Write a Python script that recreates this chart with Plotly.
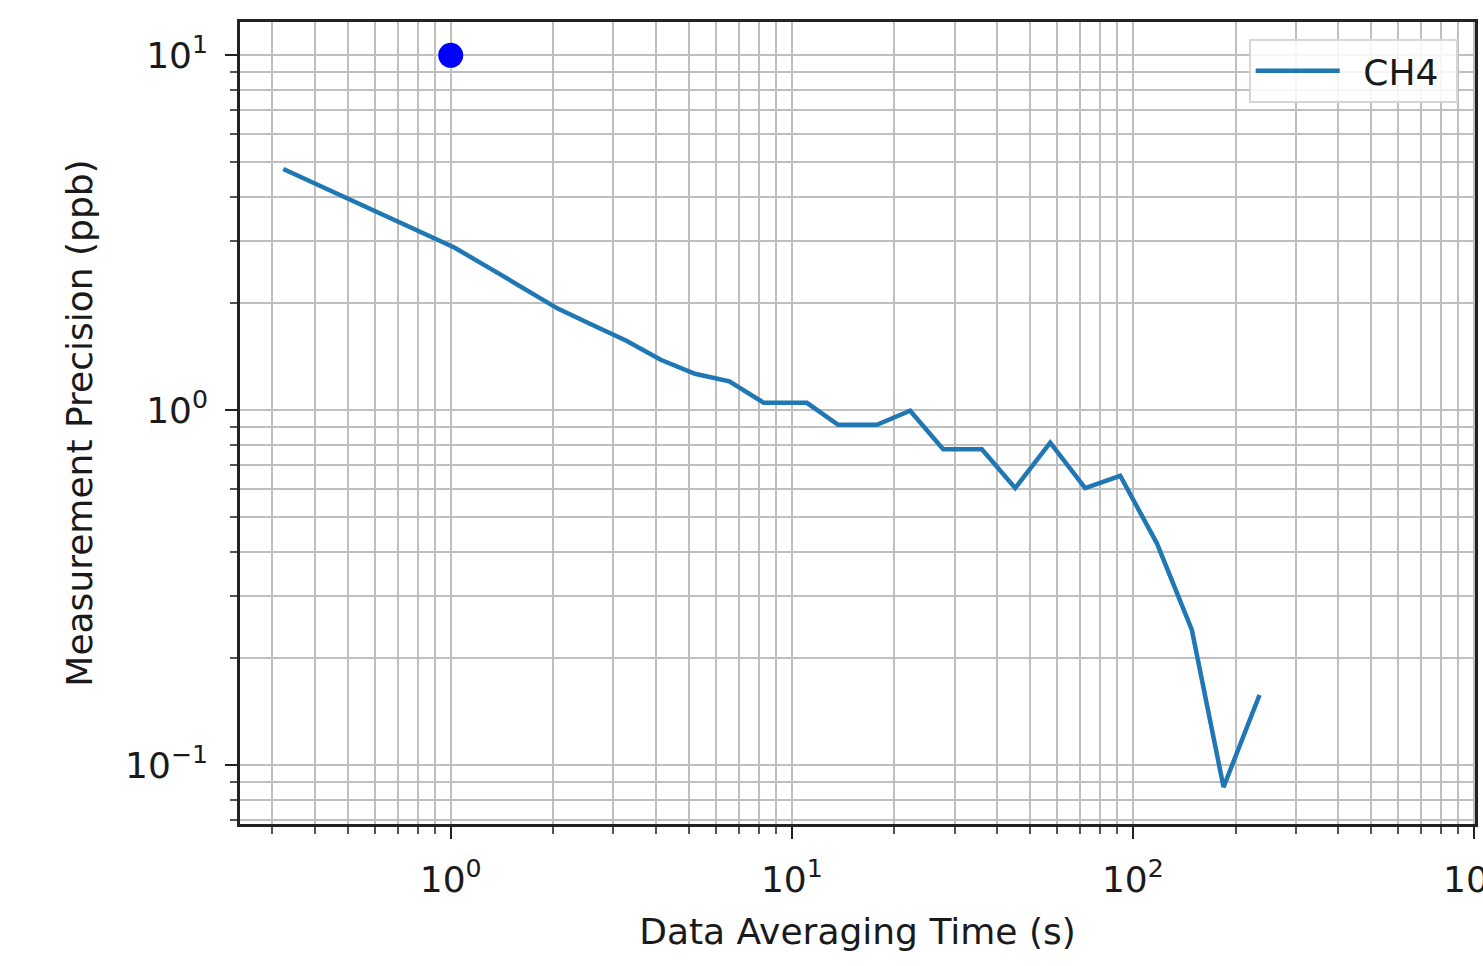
import plotly.graph_objects as go

# Allan-deviation style precision curve for CH4
tau_s = [0.323, 0.407, 0.513, 0.647, 0.815, 1.028, 1.296, 1.634, 2.060, 2.596,
         3.273, 4.127, 5.202, 6.558, 8.27, 11.07, 13.67, 17.76, 22.23, 27.78,
         36.07, 45.17, 57.23, 72.47, 91.78, 117.6, 148.9, 184.4, 235.1]
ch4_ppb = [4.785, 4.32, 3.89, 3.51, 3.16, 2.87, 2.52, 2.20, 1.935, 1.743,
           1.57, 1.388, 1.268, 1.207, 1.05, 1.05, 0.910, 0.910, 0.997, 0.777,
           0.777, 0.604, 0.811, 0.604, 0.654, 0.422, 0.2406, 0.0868, 0.1578]

# single reference point
ref_tau = [1.0]
ref_ppb = [10.0]

x_major = [1, 10, 100, 1000]
x_major_text = ["10<sup>0</sup>", "10<sup>1</sup>", "10<sup>2</sup>", "10<sup>3</sup>"]
x_minor = [0.3, 0.4, 0.5, 0.6, 0.7, 0.8, 0.9,
           2, 3, 4, 5, 6, 7, 8, 9,
           20, 30, 40, 50, 60, 70, 80, 90,
           200, 300, 400, 500, 600, 700, 800, 900]
y_major = [0.1, 1, 10]
y_major_text = ["10<sup>\u22121</sup>", "10<sup>0</sup>", "10<sup>1</sup>"]
y_minor = [0.07, 0.08, 0.09, 0.2, 0.3, 0.4, 0.5, 0.6, 0.7, 0.8, 0.9,
           2, 3, 4, 5, 6, 7, 8, 9]

FONT = "DejaVu Sans"
GRID = "#bfbfbf"
TEXT = "#1a1a1a"

fig = go.Figure()
fig.add_trace(go.Scatter(
    x=tau_s, y=ch4_ppb, mode="lines",
    # padded with non-breaking spaces to widen the legend entry
    name="\u00a0\u2009CH4\u00a0",
    line=dict(color="#1f77b4", width=4.5),
))
fig.add_trace(go.Scatter(
    x=ref_tau, y=ref_ppb, mode="markers", showlegend=False,
    marker=dict(color="#0000ff", size=25, line=dict(width=0)),
))

axis_common = dict(
    type="log",
    showline=True, mirror=True, linecolor="#222222", linewidth=2.6,
    ticks="outside", ticklen=12, tickwidth=2.4, tickcolor="#222222",
    tickmode="array",
    showgrid=True, gridcolor=GRID, gridwidth=2.4,
    zeroline=False,
    tickfont=dict(family=FONT, size=36, color=TEXT),
    ticklabelstandoff=10,
    ticklabeloverflow="allow",
)

fig.update_xaxes(
    **axis_common,
    range=[-0.6178, 3.003],
    tickvals=x_major, ticktext=x_major_text,
    minor=dict(tickmode="array", tickvals=x_minor, ticks="outside", ticklen=7,
               tickwidth=2.4, tickcolor="#555555",
               showgrid=True, gridcolor=GRID, gridwidth=2.4),
    title=dict(text="Data Averaging Time (s)", standoff=20,
               font=dict(family=FONT, size=36, color=TEXT)),
)
fig.update_yaxes(
    **axis_common,
    range=[-1.1654, 1.094],
    tickvals=y_major, ticktext=y_major_text,
    minor=dict(tickmode="array", tickvals=y_minor, ticks="outside", ticklen=7,
               tickwidth=2.4, tickcolor="#555555",
               showgrid=True, gridcolor=GRID, gridwidth=2.4),
    title=dict(text="Measurement Precision (ppb)", standoff=22,
               font=dict(family=FONT, size=36, color=TEXT)),
)

fig.update_layout(
    width=1483, height=966,
    margin=dict(l=240, r=8, t=22, b=142, autoexpand=False),
    paper_bgcolor="white", plot_bgcolor="white",
    font=dict(family=FONT, size=36, color=TEXT),
    legend=dict(
        x=0.986, y=0.979, xanchor="right", yanchor="top",
        bgcolor="rgba(255,255,255,0.85)", bordercolor="#d6d6d6", borderwidth=2,
        font=dict(family=FONT, size=36, color=TEXT),
        itemwidth=84,
    ),
)

fig.write_html("out.html")
